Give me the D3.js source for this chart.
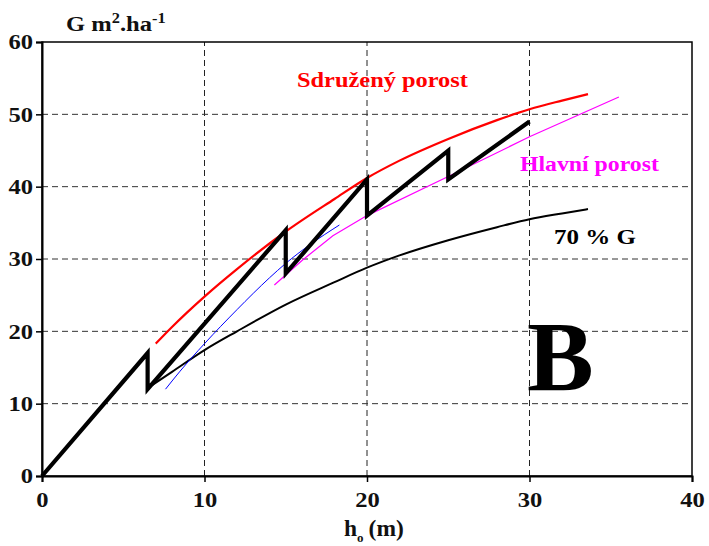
<!DOCTYPE html>
<html><head><meta charset="utf-8">
<script src="https://cdn.jsdelivr.net/npm/d3@7"></script>
<style>body{margin:0;background:#fff}svg{display:block}text{font-family:"Liberation Serif","Times New Roman",serif;font-weight:bold}</style>
</head><body>
<svg id="c" width="709" height="546"></svg>
<script>
const xTicks = [0, 10, 20, 30, 40];
const yTicks = [0, 10, 20, 30, 40, 50, 60];
// thick black: actual basal area with thinnings
const stepX = [0, 6.5, 6.5, 15, 15, 20, 20, 25, 25, 30];
const stepY = [0, 17, 12, 34, 28, 41, 36, 45, 41, 49];
// Sdružený porost (red)
const redX = [7, 8, 10, 12, 15, 18, 20, 22, 25, 28, 30, 32, 33.6];
const redY = [18.3, 20.6, 24.8, 28.6, 33.8, 38.3, 41.2, 43.6, 46.6, 49.2, 50.7, 51.9, 52.8];
// 70 % G (thin black)
const g70X = [6.8, 8, 10, 12, 15, 18, 20, 22, 25, 28, 30, 32, 33.6];
const g70Y = [12.6, 14.4, 17.4, 20.0, 23.7, 26.8, 28.8, 30.5, 32.6, 34.4, 35.5, 36.3, 36.9];
// blue
const blueX = [7.6, 8.5, 10, 12, 14, 15, 16.5, 18.3];
const blueY = [12.0, 14.5, 18.3, 23.0, 27.4, 29.4, 32.0, 34.7];
// Hlavní porost (magenta)
const magX = [14.3, 16, 17.9, 20, 25, 30, 35.5];
const magY = [26.4, 29.8, 33.2, 36.0, 41.4, 46.9, 52.4];

const SX = 1.17; // horizontal stretch of the reference lettering
const svg = d3.select("#c");
const x = d3.scaleLinear().domain([0, 40]).range([42, 692]);
const y = d3.scaleLinear().domain([0, 60]).range([476, 42]);

// grid
const g = svg.append("g");
g.selectAll(".vg").data(xTicks.filter(d => d > 0 && d < 40)).enter().append("line")
  .attr("x1", d => x(d)).attr("x2", d => x(d)).attr("y1", y(0)).attr("y2", y(60))
  .attr("stroke", "#222").attr("stroke-width", 1).attr("stroke-dasharray", "6,4");
g.selectAll(".hg").data(yTicks.filter(d => d > 0 && d < 60)).enter().append("line")
  .attr("y1", d => y(d)).attr("y2", d => y(d)).attr("x1", x(0)).attr("x2", x(40))
  .attr("stroke", "#333").attr("stroke-width", 1).attr("stroke-dasharray", "6,4");

// frame
svg.append("rect").attr("x", x(0)).attr("y", y(60)).attr("width", x(40) - x(0)).attr("height", y(0) - y(60))
  .attr("fill", "none").attr("stroke", "#000").attr("stroke-width", 1.5);

// axes
const xa = svg.append("g").attr("transform", `translate(0,${y(0)})`)
  .call(d3.axisBottom(x).tickValues(xTicks).tickSize(6).tickPadding(10).tickFormat(d3.format("d")));
const ya = svg.append("g").attr("transform", `translate(${x(0)},0)`)
  .call(d3.axisLeft(y).tickValues(yTicks).tickSize(6).tickPadding(3).tickFormat(d3.format("d")));
[xa, ya].forEach(a => {
  a.select(".domain").attr("stroke", "#000").attr("stroke-width", 2);
  a.selectAll(".tick line").attr("stroke", "#000").attr("stroke-width", 1.5);
  a.selectAll("text").attr("font-size", 21).attr("fill", "#111")
   .style("font-family", '"Liberation Serif","Times New Roman",serif').style("font-weight", "bold");
});
xa.selectAll(".tick text").attr("transform", `scale(${SX},1)`);
ya.selectAll(".tick text").attr("transform", `scale(${SX},1)`).attr("x", -9 / SX);

const line = d3.line().x(d => x(d[0])).y(d => y(d[1]));
const curve = d3.line().x(d => x(d[0])).y(d => y(d[1])).curve(d3.curveMonotoneX);
const zip = (a, b) => a.map((v, i) => [v, b[i]]);

svg.append("path").attr("d", curve(zip(g70X, g70Y))).attr("fill", "none").attr("stroke", "#000").attr("stroke-width", 2);
svg.append("path").attr("d", curve(zip(redX, redY))).attr("fill", "none").attr("stroke", "#ff0000").attr("stroke-width", 2.2);
svg.append("path").attr("d", curve(zip(blueX, blueY))).attr("fill", "none").attr("stroke", "#0000ff").attr("stroke-width", 1);
svg.append("path").attr("d", line(zip(magX, magY))).attr("fill", "none").attr("stroke", "#ff00ff").attr("stroke-width", 1.2);
svg.append("path").attr("d", line(zip(stepX, stepY))).attr("fill", "none").attr("stroke", "#000").attr("stroke-width", 4.2).attr("stroke-linejoin", "miter");

// labels
function label(px, py, size, color, txt, sx) {
  return svg.append("text").attr("transform", `translate(${px},${py}) scale(${sx || SX},1)`)
    .attr("fill", color).attr("font-size", size).text(txt);
}
label(297, 87, 20.5, "#ff0000", "Sdružený porost", 1.19);
label(520, 171, 20.5, "#ff00ff", "Hlavní porost", 1.16);
label(554, 244, 20.5, "#000", "70 % G", 1.22);
label(527, 390, 100, "#000", "B", 1.0);

// axis titles
const yt = svg.append("text").attr("transform", `translate(66,31) scale(${SX},1)`).attr("font-size", 21).attr("fill", "#111");
yt.append("tspan").text("G m");
yt.append("tspan").attr("font-size", 14).attr("dy", -8).text("2");
yt.append("tspan").attr("dy", 8).text(".ha");
yt.append("tspan").attr("font-size", 14).attr("dy", -8).text("-1");

const xt = svg.append("text").attr("transform", `translate(344,536)`).attr("font-size", 23.5).attr("fill", "#111");
xt.append("tspan").text("h");
xt.append("tspan").attr("font-size", 13).attr("dy", 6).text("o");
xt.append("tspan").attr("dy", -6).attr("dx", 5).text("(m)");
</script>
</body></html>
